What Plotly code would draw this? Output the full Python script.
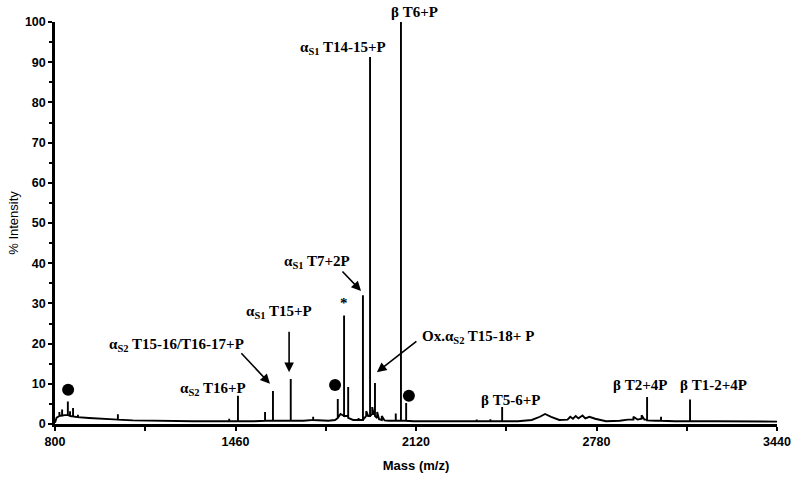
import plotly.graph_objects as go

# Spectrum: (m/z, % intensity), peaks as vertical sticks
spectrum_mz = [
    800, 806, 816, 816, 816, 826, 826, 826, 836, 847, 847, 847, 855, 855, 855,
    866, 866, 866, 884, 884, 884, 924, 965, 1005, 1030, 1030, 1030, 1085, 1156,
    1226, 1306, 1387, 1437, 1437, 1437, 1469, 1469, 1469, 1528, 1568, 1568, 1568,
    1597, 1597, 1597, 1628, 1662, 1662, 1662, 1709, 1744, 1744, 1744, 1799, 1824,
    1834, 1834, 1834, 1844, 1857, 1857, 1857, 1872, 1872, 1872, 1890, 1910, 1910,
    1910, 1926, 1926, 1926, 1938, 1938, 1945, 1952, 1952, 1952, 1960, 1960, 1965,
    1970, 1970, 1970, 1978, 1978, 1985, 1995, 1995, 2005, 2020, 2046, 2046, 2046,
    2065, 2065, 2065, 2084, 2084, 2084, 2111, 2211, 2262, 2312, 2342, 2342, 2342,
    2392, 2392, 2392, 2435, 2435, 2435, 2493, 2543, 2573, 2592, 2614, 2644, 2674,
    2684, 2694, 2704, 2714, 2729, 2739, 2754, 2775, 2790, 2815, 2865, 2895, 2915,
    2915, 2930, 2945, 2945, 2955, 2965, 2965, 2965, 2996, 3016, 3016, 3016, 3066,
    3122, 3122, 3122, 3217, 3440,
]
spectrum_int = [
    0.3, 1.6, 2.0, 3.0, 2.0, 2.1, 3.6, 2.1, 2.2, 2.2, 5.6, 2.2, 2.0, 3.2, 2.0,
    1.9, 4.0, 1.9, 1.7, 2.3, 1.7, 1.5, 1.3, 1.2, 1.1, 2.4, 1.1, 0.9, 0.8,
    0.7, 0.7, 0.7, 0.7, 1.3, 0.7, 0.7, 7.0, 0.7, 0.7, 0.8, 3.0, 0.8,
    0.8, 8.2, 0.8, 0.8, 0.8, 11.2, 0.8, 0.8, 1.0, 1.8, 1.0, 0.8, 1.0,
    1.5, 6.2, 1.5, 2.5, 2.0, 27.0, 2.0, 2.0, 9.2, 1.5, 1.0, 1.0, 1.5,
    1.0, 1.0, 32.0, 1.0, 2.0, 3.2, 2.0, 2.0, 91.3, 2.0, 2.5, 4.2, 2.5,
    2.5, 10.2, 2.0, 1.5, 3.0, 1.2, 1.0, 2.0, 0.9, 0.8, 0.8, 2.6, 0.8,
    0.8, 100, 0.8, 0.8, 5.2, 0.8, 0.7, 0.7, 0.8, 0.7, 0.7, 1.1, 0.7,
    0.7, 1.2, 0.7, 0.7, 4.2, 0.7, 0.7, 1.0, 1.8, 2.5, 1.8, 1.0, 1.1,
    1.8, 1.3, 2.0, 1.4, 2.1, 1.4, 1.8, 1.3, 1.1, 0.7, 0.8, 1.1, 1.1,
    1.8, 1.1, 1.3, 2.2, 1.1, 1.1, 6.7, 0.9, 0.8, 0.8, 1.8, 0.8, 0.7,
    0.7, 6.1, 0.7, 0.7, 0.6,
]

# filled dots marking unassigned peaks
dot_mz = [848, 1824, 2094]
dot_int = [8.5, 9.7, 7.0]

# peak labels: text, x, y, anchor
labels = [
    ("α<sub>S1</sub> T14-15+P", 1853, 93.5, "center"),
    ("α<sub>S1</sub> T7+2P", 1758, 40.3, "center"),
    ("*", 1857, 30.1, "center"),
    ("α<sub>S1</sub> T15+P", 1619, 27.9, "center"),
    ("α<sub>S2</sub> T15-16/T16-17+P", 1246, 19.6, "center"),
    ("α<sub>S2</sub> T16+P", 1378, 8.7, "center"),
    ("Ox.α<sub>S2</sub> T15-18+ P", 2135, 21.6, "left"),
    ("β T5-6+P", 2464, 6.0, "center"),
    ("β T2+4P", 2939, 9.7, "center"),
    ("β T1-2+4P", 3206, 9.7, "center"),
]
top_label = ("β T6+P", 2113)

# arrows: head x, head y, tail offset in px
arrows = [
    (1919, 33.1, -20, -21),
    (1656, 12.9, 0, -42),
    (1586, 10.0, -30, -32),
    (1977, 12.9, 41, -32),
]

label_font = dict(family="Liberation Serif", size=15, color="black", weight="bold")

fig = go.Figure()
fig.add_trace(go.Scatter(
    x=spectrum_mz, y=spectrum_int, mode="lines",
    line=dict(color="black", width=1.9), hoverinfo="skip",
))
fig.add_trace(go.Scatter(
    x=dot_mz, y=dot_int, mode="markers",
    marker=dict(color="black", size=12), hoverinfo="skip",
))

for text, x, y, anchor in labels:
    fig.add_annotation(
        x=x, y=y, text=text, showarrow=False, xanchor=anchor, yanchor="middle",
        font=label_font,
    )

fig.add_annotation(
    x=top_label[1], y=1.0, yref="paper", text=top_label[0], showarrow=False,
    xanchor="center", yanchor="bottom", font=label_font,
)

for x, y, ax, ay in arrows:
    fig.add_annotation(
        x=x, y=y, ax=ax, ay=ay, text="", showarrow=True,
        arrowhead=2, arrowsize=1.2, arrowwidth=1.6, arrowcolor="black",
    )

fig.update_layout(
    width=800, height=479,
    margin=dict(l=55, r=23, t=22, b=55),
    paper_bgcolor="white", plot_bgcolor="white",
    showlegend=False,
    font=dict(family="Liberation Sans", size=12, color="black"),
    xaxis=dict(
        range=[800, 3440], tickvals=[800, 1460, 2120, 2780, 3440],
        showgrid=False, zeroline=False, automargin=False,
        showline=True, linecolor="black", linewidth=2.5,
        ticks="outside", ticklen=4, tickwidth=2, tickcolor="black",
        minor=dict(tickvals=[1130, 1790, 2450, 3110], ticks="outside",
                   ticklen=4, tickwidth=2, tickcolor="black"),
        tickfont=dict(size=12.5, weight="bold"),
        title=dict(text="Mass (m/z)", font=dict(size=13, weight="bold"), standoff=14),
    ),
    yaxis=dict(
        range=[0, 100], tickvals=list(range(0, 101, 10)),
        showgrid=False, zeroline=False, automargin=False,
        showline=True, linecolor="black", linewidth=2.5,
        ticks="outside", ticklen=4, tickwidth=2, tickcolor="black",
        minor=dict(tickvals=list(range(5, 100, 10)), ticks="outside",
                   ticklen=3, tickwidth=1.5, tickcolor="black"),
        tickfont=dict(size=12.5, weight="bold"),
        title=dict(text="% Intensity", font=dict(size=13), standoff=4),
    ),
)

fig.write_html(
    "out.html",
    config={"displayModeBar": False},
    post_script="document.body.style.margin='0';",
)
